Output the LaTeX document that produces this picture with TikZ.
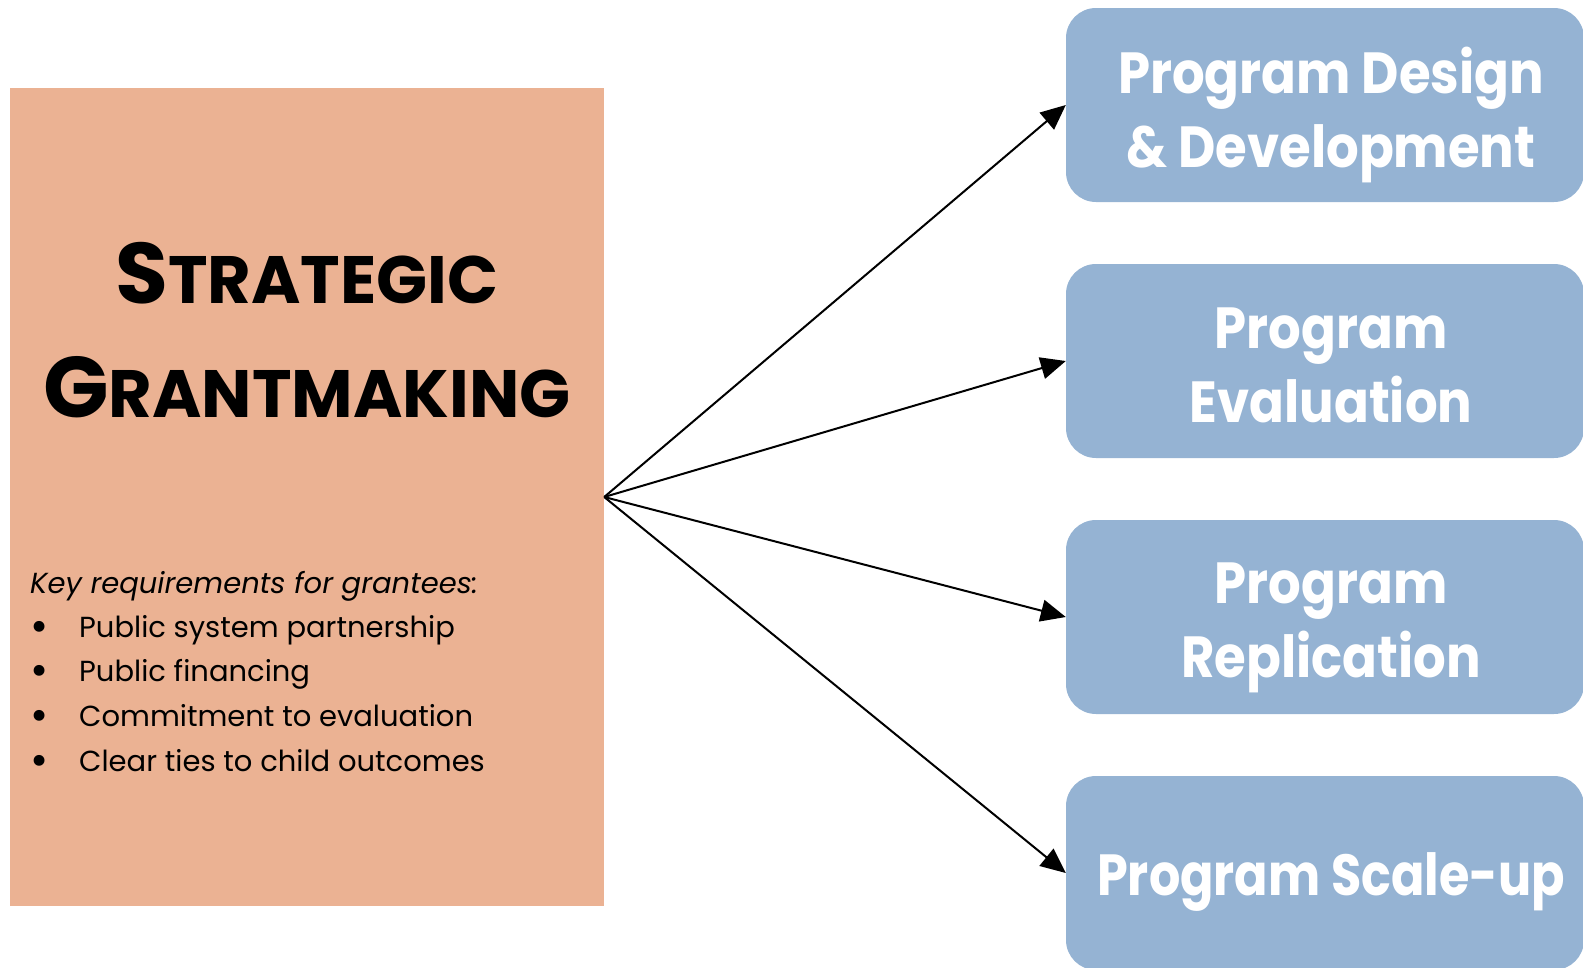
\documentclass[tikz,border=0pt]{standalone}
\usepackage{fontspec}
\setmainfont{Poppins}
\newfontfamily\stagefont{Poppins}[FakeStretch=0.885]
\usetikzlibrary{arrows.meta}
\definecolor{grantorange}{HTML}{EBB293}
\definecolor{stageblue}{HTML}{95B3D3}
\newcommand{\reqbullet}{\makebox[49pt][l]{\raisebox{-4pt}{\fontsize{44}{44}\selectfont •}}}

\begin{document}
\begin{tikzpicture}[x=1pt, y=-1pt,
  stagebox/.style={rounded corners=30pt, fill=stageblue, minimum width=518pt, minimum height=194pt, inner sep=0pt},
  stagetext/.style={anchor=base, inner sep=0pt, text=white, align=center,
    font=\stagefont\bfseries\fontsize{58}{74}\selectfont},
  reqline/.style={anchor=base west, inner sep=0pt, font=\fontsize{29}{29}\selectfont}]
\useasboundingbox (0,0) rectangle (1583,967);
\clip (0,0) rectangle (1583,967);

\node [fill=grantorange, minimum width=594pt, minimum height=818pt, inner sep=0pt] (strat) at (307,497) {};

\node [align=center, inner sep=0pt, anchor=base] (title1) at (307,303)
  {\bfseries\fontsize{86}{86}\selectfont S\fontsize{67}{67}\selectfont TRATEGIC};
\node [align=center, inner sep=0pt, anchor=base] (title2) at (307,417)
  {\bfseries\fontsize{86}{86}\selectfont G\fontsize{67}{67}\selectfont RANTMAKING};

\node [reqline] (keyreq) at (30,593) {\itshape Key requirements for grantees:};
\node [reqline] (req1) at (30,637) {\reqbullet Public system partnership};
\node [reqline] (req2) at (30,681) {\reqbullet Public financing};
\node [reqline] (req3) at (30,726) {\reqbullet Commitment to evaluation};
\node [reqline] (req4) at (30,771) {\reqbullet Clear ties to child outcomes};

\node [stagebox] (design) at (1325,105) {};
\node [stagebox] (eval) at (1325,361) {};
\node [stagebox] (repl) at (1325,617) {};
\node [stagebox] (scale) at (1325,873) {};

% base anchor sits on the last line
\node [stagetext] (designtext) at (1331,167) {Program Design\\\& Development};
\node [stagetext] (evaltext) at (1331,422) {Program\\Evaluation};
\node [stagetext] (repltext) at (1331,677) {Program\\Replication};
\node [stagetext, xscale=0.96] (scaletext) at (1331,895) {Program Scale-up};

\path [-{Triangle[length=25pt,width=22pt]}, line width=2pt]
  (strat.east) edge (design.west)
  (strat.east) edge (eval.west)
  (strat.east) edge (repl.west)
  (strat.east) edge (scale.west);

\end{tikzpicture}
\end{document}
